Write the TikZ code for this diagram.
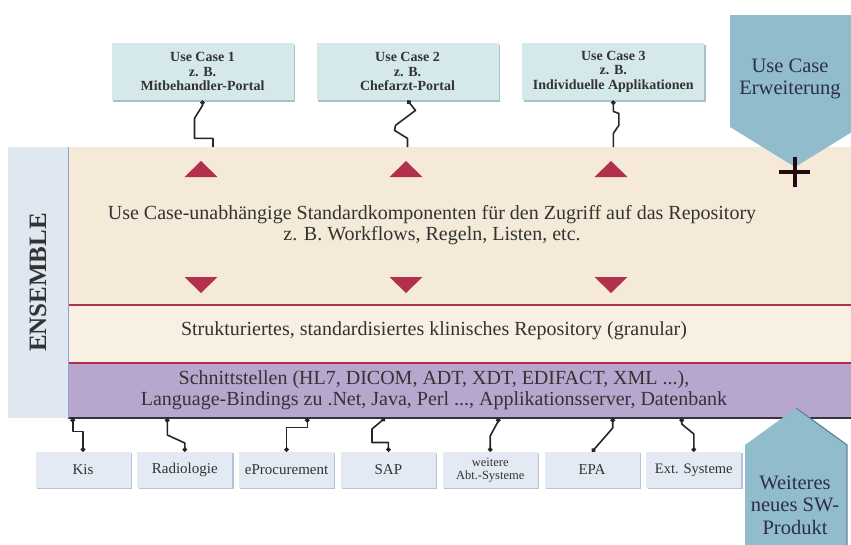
\documentclass[tikz,border=0pt]{standalone}
\usepackage{fontspec}
\setmainfont{Liberation Serif}
\usetikzlibrary{arrows.meta,shadows}
\definecolor{ucfill}{HTML}{D5E9EB}
\definecolor{ucshade}{HTML}{A3C3CB}
\definecolor{sysfill}{HTML}{E4EAF3}
\definecolor{sysshade}{HTML}{B5C3D8}
\definecolor{ensblue}{HTML}{DFE7F1}
\definecolor{beige}{HTML}{F4EAD7}
\definecolor{beigelight}{HTML}{F7F0E3}
\definecolor{lilac}{HTML}{B7A7CE}
\definecolor{wine}{HTML}{B3304C}
\definecolor{petrol}{HTML}{90BCCB}
\definecolor{ink}{HTML}{333333}

\begin{document}
\begin{tikzpicture}[x=1pt,y=1pt,yscale=-1,xscale=1,
  ucbox/.style={fill=ucfill, minimum width=182pt, minimum height=57pt, inner sep=1pt, align=center,
    font=\bfseries\fontsize{14}{14.6}\selectfont, text=ink,
    drop shadow={shadow xshift=1.5pt, shadow yshift=-1.5pt, fill=ucshade, opacity=1}},
  sysbox/.style={fill=sysfill, minimum width=95pt, minimum height=36pt, inner sep=1pt, align=center,
    font=\fontsize{15}{13}\selectfont, text=ink,
    drop shadow={shadow xshift=1.2pt, shadow yshift=-1.2pt, fill=sysshade, opacity=1}},
  band/.style={inner sep=0pt, outer sep=0pt},
  layertext/.style={align=center, text=ink, font=\fontsize{20}{20.5}\selectfont},
  pentatext/.style={align=center, text=ink!90!blue, font=\fontsize{20.5}{22.5}\selectfont},
  wire/.style={line width=1.6pt, black!85, line join=round},
  dotwire/.style={wire, {Circle[length=4.5pt]}-{Circle[length=4.5pt]}}
]
\useasboundingbox (0,0) rectangle (851,544);
\clip (0,0) rectangle (851,544);

% layers
\node[band, fill=ensblue, minimum width=60pt, minimum height=271pt] (ensemble) at (38,282.5)
  {\rotatebox{90}{\fontsize{25}{25}\selectfont\bfseries\color{ink} ENSEMBLE}};
\node[band, fill=beige, minimum width=792pt, minimum height=158pt] (core) at (464,226) {};
\node[band, fill=beigelight, minimum width=792pt, minimum height=58pt] (repo) at (464,334) {};
\node[band, fill=lilac, minimum width=792pt, minimum height=55pt] (iface) at (464,390.5) {};
\draw[wine, line width=1.5pt] (core.south west) -- (core.south east);
\draw[wine, line width=1.5pt] (repo.south west) -- (repo.south east);
\draw[black!70!lilac, line width=1.2pt] (iface.south west) -- (iface.south east);
\draw[blue!30!gray!60, line width=0.8pt] (core.north west) -- (iface.south west);

% layer texts
\node[layertext] (coretext) at (432,225)
  {Use Case-unabhängige Standardkomponenten für den Zugriff auf das Repository\\
   z. B. Workflows, Regeln, Listen, etc.};
\node[layertext] (repotext) at (434,331)
  {Strukturiertes, standardisiertes klinisches Repository (granular)};
\node[layertext] (ifacetext) at (434,390)
  {Schnittstellen (HL7, DICOM, ADT, XDT, EDIFACT, XML ...),\\
   Language-Bindings zu .Net, Java, Perl ..., Applikationsserver, Datenbank};

% red triangles
\foreach \x in {201,406,611} {
  \fill[wine] (\x-16.5,177) -- (\x,161) -- (\x+16.5,177) -- cycle;
  \fill[wine] (\x-16.5,277) -- (\x+16.5,277) -- (\x,293) -- cycle;
}

% use cases
\node[ucbox] (uc1) at (202.5,71.7) {Use Case 1\\z. B.\\Mitbehandler-Portal};
\node[ucbox] (uc2) at (407.5,71.7) {Use Case 2\\z. B.\\Chefarzt-Portal};
\node[ucbox] (uc3) at (613.3,71.7) {Use Case 3\\z. B.\\Individuelle Applikationen};

\coordinate (in1) at (213,147);
\coordinate (in2) at (407.5,147);
\coordinate (in3) at (613.3,147);
\draw[wire, {Circle[length=4.5pt]}-] (uc1.south) -- ++(0,5) -- ++(-8,13) -- ++(0,20) -| (in1);
\draw[wire, {Circle[length=4.5pt]}-] (uc2.south) -- ++(8,10) -- ++(-20,15) -- ++(-1,5) -- ++(13,8) -- (in2);
\draw[wire, {Circle[length=4.5pt]}-] (uc3.south) -- ++(0,11) -- ++(5.5,2) -- ++(0,12) -- ++(-5.5,8) -- (in3);

% extension
\fill[petrol] (730,15) -- (730,127) -- (795,167) -- (860,127) -- (860,15) -- cycle;
\node[pentatext] (ucext) at (790,79) {Use Case\\Erweiterung};
\draw[black!80!wine, line width=4.5pt] (779,172) -- (810,172) (795,157) -- (795,187);

% systems
\node[sysbox] (kis) at (83,470) {Kis};
\node[sysbox] (radio) at (184.8,470) {Radiologie};
\node[sysbox] (eproc) at (286.6,470) {eProcurement};
\node[sysbox] (sap) at (388.4,470) {SAP};
\node[sysbox, font=\fontsize{12.5}{13}\selectfont] (abt) at (490.2,470) {weitere\\Abt.-Systeme};
\node[sysbox] (epa) at (592,470) {EPA};
\node[sysbox, font=\fontsize{14.5}{13}\selectfont] (ext) at (693.8,470) {Ext. Systeme};

\coordinate (p1) at (72.7,418);
\coordinate (p2) at (167.3,418);
\coordinate (p3) at (307.3,418);
\coordinate (p4) at (385,418);
\coordinate (p5) at (498.3,418);
\coordinate (p6) at (612.7,418);
\coordinate (p7) at (681.7,418);
\draw[dotwire] (p1) -- ++(0,13.5) -| (kis.north);
\draw[dotwire] (p2) -- ++(0,17) -- ++(17.5,8) -- (radio.north);
\draw[dotwire] (p3) -- ++(0,9.5) -| (eproc.north);
\draw[dotwire] (p4) -- ++(-13,11) -- ++(0,13.5) -| (sap.north);
\draw[dotwire] (p5) -- ++(0,3) -- ++(-8.1,15) -- (abt.north);
\draw[dotwire] (p6) -- ++(0,10) -- (epa.north);
\draw[dotwire] (p7) -- ++(0,6) -- ++(12.1,10) -- (ext.north);

% new product
\fill[petrol] (745,445) -- (796,408) -- (847,445) -- (847,550) -- (745,550) -- cycle;
\draw[petrol!70!black, line width=1.2pt] (796,408) -- (847,445) -- (847,550);
\node[pentatext] (swprod) at (795,505) {Weiteres\\neues SW-\\Produkt};
\end{tikzpicture}
\end{document}
